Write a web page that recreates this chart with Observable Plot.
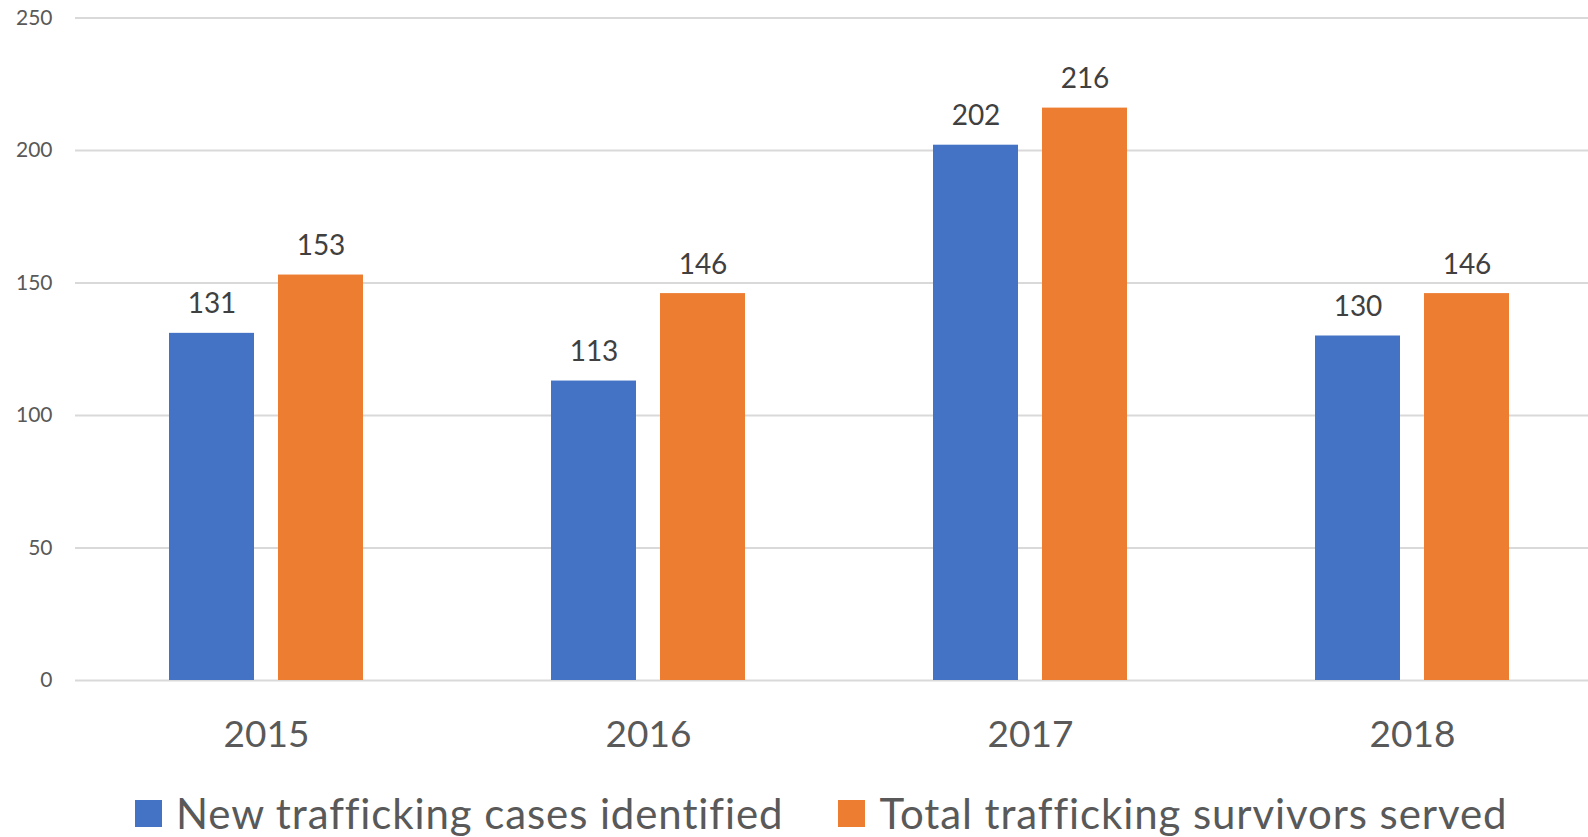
<!DOCTYPE html>
<html>
<head>
<meta charset="utf-8">
<script src="https://cdn.jsdelivr.net/npm/d3@7"></script>
<script src="https://cdn.jsdelivr.net/npm/@observablehq/plot@0.6"></script>
<style>
  html, body { margin: 0; padding: 0; background: #fff; }
  #wrap { position: relative; width: 1588px; height: 837px; overflow: hidden; font-family: Lato, sans-serif; }
  #legend { position: absolute; left: 135px; top: 790px; height: 46px; display: flex; align-items: center; color: #595959; font-size: 42px; line-height: 46px; letter-spacing: 0.9px; white-space: nowrap; }
  .sw { width: 27px; height: 27px; display: inline-block; margin-right: 14px; }
  .item { display: flex; align-items: center; margin-right: 55px; }
</style>
</head>
<body>
<div id="wrap"><div id="chart"></div><div id="legend"></div></div>
<script>
const years = ["2015", "2016", "2017", "2018"];
const seriesNames = ["New trafficking cases identified", "Total trafficking survivors served"];
const newCases = [131, 113, 202, 130];
const survivorsServed = [153, 146, 216, 146];
const yTicks = [0, 50, 100, 150, 200, 250];
const colors = ["#4472C4", "#ED7D31"];

const rowsA = years.map((y, i) => ({year: y, value: newCases[i]}));
const rowsB = years.map((y, i) => ({year: y, value: survivorsServed[i]}));

const chart = Plot.plot({
  width: 1588,
  height: 760,
  marginLeft: 75,
  marginRight: 0,
  marginTop: 17.5,
  marginBottom: 80,
  style: {fontFamily: "Lato, sans-serif", background: "#fff"},
  x: {domain: years, range: [75, 1603], padding: 0, label: null},
  y: {domain: [0, 250], range: [680, 17.5], label: null},
  marks: [
    Plot.gridY(yTicks, {stroke: "#d9d9d9", strokeOpacity: 1, strokeWidth: 2}),
    Plot.axisY(yTicks, {tickSize: 0, tickPadding: 23, fontSize: 21, fill: "#595959", label: null}),
    Plot.axisX({tickSize: 0, tickPadding: 40, fontSize: 37, fill: "#595959", label: null}),
    Plot.barY(rowsA, {x: "year", y: "value", fill: colors[0], insetLeft: 94, insetRight: 203}),
    Plot.barY(rowsB, {x: "year", y: "value", fill: colors[1], insetLeft: 203, insetRight: 94}),
    Plot.text(rowsA, {x: "year", y: "value", text: d => String(d.value), dx: -54.5, dy: -20, lineAnchor: "bottom", fontSize: 28, fill: "#404040"}),
    Plot.text(rowsB, {x: "year", y: "value", text: d => String(d.value), dx: 54.5, dy: -20, lineAnchor: "bottom", fontSize: 28, fill: "#404040"})
  ]
});
document.getElementById("chart").appendChild(chart);

const legend = document.getElementById("legend");
seriesNames.forEach((n, i) => {
  const it = document.createElement("div");
  it.className = "item";
  const sw = document.createElement("span");
  sw.className = "sw";
  sw.style.background = colors[i];
  const t = document.createElement("span");
  t.textContent = n;
  it.appendChild(sw); it.appendChild(t);
  legend.appendChild(it);
});
</script>
</body>
</html>
